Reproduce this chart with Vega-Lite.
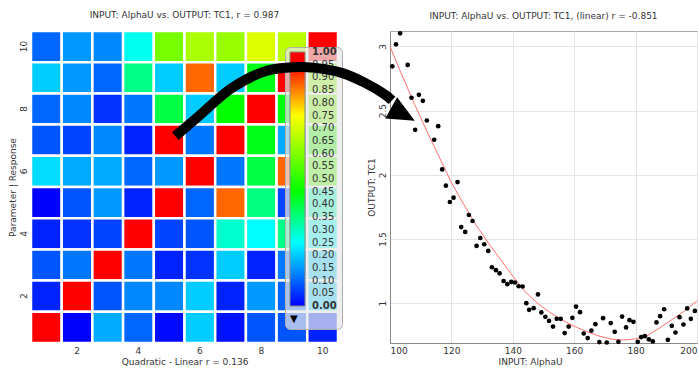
{
  "$schema": "https://vega.github.io/schema/vega-lite/v6.json",
  "padding": {"left": 6, "top": 9, "right": 0, "bottom": 0},
  "bounds": "flush",
  "spacing": 52,
  "resolve": {"scale": {"color": "independent"}, "legend": {"color": "independent"}},
  "config": {
    "font": "DejaVu Sans",
    "axis": {"labelFontSize": 9, "titleFontSize": 9, "titleFontWeight": "normal", "labelColor": "#333", "titleColor": "#333"},
    "title": {"fontSize": 9, "fontWeight": "normal", "color": "#333", "offset": 10}
  },
  "datasets": {
    "cells": [
      {"row":10,"col":1,"v":0.10},{"row":10,"col":2,"v":0.15},{"row":10,"col":3,"v":0.133},{"row":10,"col":4,"v":0.263},{"row":10,"col":5,"v":0.59},{"row":10,"col":6,"v":0.65},{"row":10,"col":7,"v":0.63},{"row":10,"col":8,"v":0.71},{"row":10,"col":9,"v":0.67},{"row":10,"col":10,"v":1.0},
      {"row":9,"col":1,"v":0.20},{"row":9,"col":2,"v":0.15},{"row":9,"col":3,"v":0.10},{"row":9,"col":4,"v":0.343},{"row":9,"col":5,"v":0.20},{"row":9,"col":6,"v":0.87},{"row":9,"col":7,"v":0.20},{"row":9,"col":8,"v":0.433},{"row":9,"col":9,"v":1.0},{"row":9,"col":10,"v":0.62},
      {"row":8,"col":1,"v":0.10},{"row":8,"col":2,"v":0.133},{"row":8,"col":3,"v":0.05},{"row":8,"col":4,"v":0.117},{"row":8,"col":5,"v":0.397},{"row":8,"col":6,"v":0.20},{"row":8,"col":7,"v":0.45},{"row":8,"col":8,"v":1.0},{"row":8,"col":9,"v":0.44},{"row":8,"col":10,"v":0.6},
      {"row":7,"col":1,"v":0.083},{"row":7,"col":2,"v":0.067},{"row":7,"col":3,"v":0.133},{"row":7,"col":4,"v":0.033},{"row":7,"col":5,"v":1.0},{"row":7,"col":6,"v":0.117},{"row":7,"col":7,"v":1.0},{"row":7,"col":8,"v":0.433},{"row":7,"col":9,"v":0.167},{"row":7,"col":10,"v":0.5},
      {"row":6,"col":1,"v":0.217},{"row":6,"col":2,"v":0.167},{"row":6,"col":3,"v":0.167},{"row":6,"col":4,"v":0.10},{"row":6,"col":5,"v":0.15},{"row":6,"col":6,"v":1.0},{"row":6,"col":7,"v":0.117},{"row":6,"col":8,"v":0.397},{"row":6,"col":9,"v":0.87},{"row":6,"col":10,"v":0.55},
      {"row":5,"col":1,"v":0.0},{"row":5,"col":2,"v":0.083},{"row":5,"col":3,"v":0.15},{"row":5,"col":4,"v":0.033},{"row":5,"col":5,"v":1.0},{"row":5,"col":6,"v":0.10},{"row":5,"col":7,"v":0.87},{"row":5,"col":8,"v":0.35},{"row":5,"col":9,"v":0.067},{"row":5,"col":10,"v":0.3},
      {"row":4,"col":1,"v":0.033},{"row":4,"col":2,"v":0.05},{"row":4,"col":3,"v":0.067},{"row":4,"col":4,"v":1.0},{"row":4,"col":5,"v":0.067},{"row":4,"col":6,"v":0.083},{"row":4,"col":7,"v":0.29},{"row":4,"col":8,"v":0.25},{"row":4,"col":9,"v":0.343},{"row":4,"col":10,"v":0.25},
      {"row":3,"col":1,"v":0.083},{"row":3,"col":2,"v":0.117},{"row":3,"col":3,"v":1.0},{"row":3,"col":4,"v":0.117},{"row":3,"col":5,"v":0.033},{"row":3,"col":6,"v":0.05},{"row":3,"col":7,"v":0.2},{"row":3,"col":8,"v":0.033},{"row":3,"col":9,"v":0.117},{"row":3,"col":10,"v":0.2},
      {"row":2,"col":1,"v":0.033},{"row":2,"col":2,"v":1.0},{"row":2,"col":3,"v":0.083},{"row":2,"col":4,"v":0.133},{"row":2,"col":5,"v":0.133},{"row":2,"col":6,"v":0.2},{"row":2,"col":7,"v":0.033},{"row":2,"col":8,"v":0.15},{"row":2,"col":9,"v":0.10},{"row":2,"col":10,"v":0.2},
      {"row":1,"col":1,"v":1.0},{"row":1,"col":2,"v":0.0},{"row":1,"col":3,"v":0.167},{"row":1,"col":4,"v":0.10},{"row":1,"col":5,"v":0.01},{"row":1,"col":6,"v":0.2},{"row":1,"col":7,"v":0.017},{"row":1,"col":8,"v":0.083},{"row":1,"col":9,"v":0.083},{"row":1,"col":10,"v":0.033}
    ],
    "pts": [
      {"x":100.76,"y":2.845},{"x":101.95,"y":3.016},{"x":103.3,"y":3.102},{"x":105.75,"y":2.856},{"x":107.0,"y":2.6},{"x":108.2,"y":2.35},{"x":109.4,"y":2.623},{"x":110.7,"y":2.576},{"x":112.0,"y":2.423},{"x":114.4,"y":2.273},{"x":115.7,"y":2.379},{"x":117.0,"y":2.042},{"x":118.2,"y":1.915},{"x":119.5,"y":1.788},{"x":120.7,"y":1.822},{"x":122.0,"y":1.943},{"x":123.2,"y":1.593},{"x":124.5,"y":1.555},{"x":125.7,"y":1.687},{"x":126.9,"y":1.64},{"x":128.2,"y":1.446},{"x":129.4,"y":1.508},{"x":130.7,"y":1.459},{"x":132.0,"y":1.407},{"x":133.2,"y":1.28},{"x":134.5,"y":1.257},{"x":135.7,"y":1.233},{"x":137.0,"y":1.173},{"x":138.2,"y":1.148},{"x":139.5,"y":1.166},{"x":140.7,"y":1.161},{"x":141.9,"y":1.132},{"x":143.2,"y":1.13},{"x":144.4,"y":1.0},{"x":145.3,"y":0.948},{"x":146.8,"y":0.961},{"x":148.2,"y":1.068},{"x":149.3,"y":0.928},{"x":150.6,"y":0.894},{"x":151.8,"y":0.862},{"x":153.1,"y":0.818},{"x":154.3,"y":0.878},{"x":155.6,"y":0.878},{"x":156.9,"y":0.767},{"x":158.2,"y":0.818},{"x":159.4,"y":0.886},{"x":160.6,"y":0.974},{"x":161.9,"y":0.93},{"x":163.1,"y":0.764},{"x":164.4,"y":0.728},{"x":165.6,"y":0.787},{"x":166.9,"y":0.837},{"x":168.2,"y":0.697},{"x":169.4,"y":0.883},{"x":170.6,"y":0.694},{"x":171.9,"y":0.845},{"x":173.2,"y":0.777},{"x":174.4,"y":0.699},{"x":175.6,"y":0.896},{"x":176.9,"y":0.811},{"x":178.0,"y":0.868},{"x":179.3,"y":0.855},{"x":180.7,"y":0.699},{"x":181.8,"y":0.736},{"x":183.0,"y":0.743},{"x":184.3,"y":0.718},{"x":185.6,"y":0.702},{"x":186.8,"y":0.85},{"x":188.0,"y":0.899},{"x":189.3,"y":0.953},{"x":190.5,"y":0.715},{"x":191.8,"y":0.824},{"x":193.0,"y":0.772},{"x":194.3,"y":0.891},{"x":195.6,"y":0.834},{"x":196.8,"y":0.959},{"x":198.0,"y":0.878},{"x":199.3,"y":0.94}
    ],
    "fit": [
      {"x":100,"y":3.0},{"x":104,"y":2.77},{"x":108,"y":2.55},{"x":112,"y":2.34},{"x":116,"y":2.14},{"x":120,"y":1.94},{"x":124,"y":1.77},{"x":128,"y":1.61},{"x":132,"y":1.47},{"x":136,"y":1.34},{"x":140,"y":1.21},{"x":144,"y":1.09},{"x":148,"y":1.0},{"x":152,"y":0.93},{"x":156,"y":0.87},{"x":160,"y":0.82},{"x":164,"y":0.78},{"x":168,"y":0.745},{"x":172,"y":0.72},{"x":176,"y":0.713},{"x":180,"y":0.722},{"x":184,"y":0.75},{"x":188,"y":0.81},{"x":192,"y":0.875},{"x":196,"y":0.94},{"x":200,"y":1.018}
    ],
    "arrow": [
      {"x":30.08,"y":2.301},{"x":37.66,"y":2.456},{"x":48.52,"y":2.677},{"x":59.35,"y":2.806},{"x":68.03,"y":2.837},{"x":75.61,"y":2.833},{"x":84.29,"y":2.794},{"x":91.87,"y":2.716},{"x":98.37,"y":2.625},{"x":100.65,"y":2.58}
    ],
    "head": [{"x":104.23,"y":2.471}]
  },
  "hconcat": [
    {
      "width": 307,
      "height": 312,
      "title": "INPUT: AlphaU vs. OUTPUT: TC1, r = 0.987",
      "data": {"name": "cells"},
      "view": {"stroke": "#c4c4c4", "strokeWidth": 2},
      "mark": {"type": "rect", "stroke": "white", "strokeWidth": 2.5},
      "encoding": {
        "x": {"field": "col", "type": "ordinal", "scale": {"domain": [1,2,3,4,5,6,7,8,9,10], "paddingInner": 0, "paddingOuter": 0},
              "axis": {"values": [2,4,6,8,10], "labelAngle": 0, "ticks": false, "domain": false, "labelPadding": 3, "titlePadding": 2, "title": "Quadratic - Linear  r = 0.136"}},
        "y": {"field": "row", "type": "ordinal", "scale": {"domain": [10,9,8,7,6,5,4,3,2,1], "paddingInner": 0, "paddingOuter": 0},
              "axis": {"values": [2,4,6,8,10], "labelAngle": -90, "ticks": false, "domain": false, "labelPadding": 3, "titlePadding": 2, "title": "Parameter | Response"}},
        "color": {"field": "v", "type": "quantitative",
                  "scale": {"domain": [0, 0.25, 0.45, 0.75, 0.95, 1], "range": ["#0000ff", "#00ffff", "#00ff00", "#ffff00", "#ff0000", "#ff0000"], "interpolate": "rgb"},
                  "legend": {"orient": "none", "legendX": 254, "legendY": 16, "direction": "vertical",
                             "gradientLength": 254, "gradientThickness": 15,
                             "values": [0,0.05,0.1,0.15,0.2,0.25,0.3,0.35,0.4,0.45,0.5,0.55,0.6,0.65,0.7,0.75,0.8,0.85,0.9,0.95,1],
                             "format": ".2f", "labelOverlap": false, "labelFontSize": 10, "labelColor": "#333", "labelOffset": 7,
                             "padding": 5, "fillColor": "rgba(232,232,232,0.72)", "strokeColor": "#b0b0b0", "cornerRadius": 5,
                             "gradientStrokeColor": "#888", "gradientStrokeWidth": 1,
                             "title": "▼", "titleOrient": "bottom", "titleFontSize": 10, "titleColor": "#000", "titlePadding": 3,
                             "encode": {"labels": {"update": {"baseline": {"value": "middle"}, "fontWeight": {"signal": "datum.value == 0 || datum.value == 1 ? 'bold' : 'normal'"}}}}}}
      }
    },
    {
      "width": 307,
      "height": 312,
      "title": "INPUT: AlphaU vs. OUTPUT: TC1, (linear) r = -0.851",
      "view": {"stroke": "#a8a8a8"},
      "layer": [
        {
          "data": {"name": "fit"},
          "mark": {"type": "line", "color": "#ff7070", "strokeWidth": 1},
          "encoding": {
            "x": {"field": "x", "type": "quantitative", "scale": {"domain": [100, 200], "nice": false, "zero": false},
                  "axis": {"values": [100,120,140,160,180,200], "gridColor": "#e4e4e4", "domainColor": "#888", "ticks": false, "labelPadding": 3, "titlePadding": 2, "title": "INPUT: AlphaU", "titleX": 140}},
            "y": {"field": "y", "type": "quantitative", "scale": {"domain": [0.69, 3.12], "nice": false, "zero": false},
                  "axis": {"values": [1, 1.5, 2, 2.5, 3], "format": "~f", "labelAngle": -90, "gridColor": "#e4e4e4", "domainColor": "#888", "ticks": false, "labelPadding": 3, "titlePadding": 2, "title": "OUTPUT: TC1"}}
          }
        },
        {
          "data": {"name": "pts"},
          "mark": {"type": "circle", "size": 22, "color": "#000", "opacity": 1},
          "encoding": {
            "x": {"field": "x", "type": "quantitative", "scale": {"domain": [100, 200], "nice": false, "zero": false}},
            "y": {"field": "y", "type": "quantitative", "scale": {"domain": [0.69, 3.12], "nice": false, "zero": false}}
          }
        },
        {
          "data": {"name": "arrow"},
          "mark": {"type": "line", "color": "#000", "strokeWidth": 10, "clip": false, "interpolate": "catmull-rom"},
          "encoding": {
            "x": {"field": "x", "type": "quantitative", "scale": {"domain": [100, 200], "nice": false, "zero": false}},
            "y": {"field": "y", "type": "quantitative", "scale": {"domain": [0.69, 3.12], "nice": false, "zero": false}}
          }
        },
        {
          "data": {"name": "head"},
          "mark": {"type": "point", "shape": "M1,0L-1,-0.9L-1,0.9Z", "filled": true, "color": "#000", "opacity": 1, "size": 729, "angle": 29, "clip": false},
          "encoding": {
            "x": {"field": "x", "type": "quantitative", "scale": {"domain": [100, 200], "nice": false, "zero": false}},
            "y": {"field": "y", "type": "quantitative", "scale": {"domain": [0.69, 3.12], "nice": false, "zero": false}}
          }
        }
      ]
    }
  ]
}
